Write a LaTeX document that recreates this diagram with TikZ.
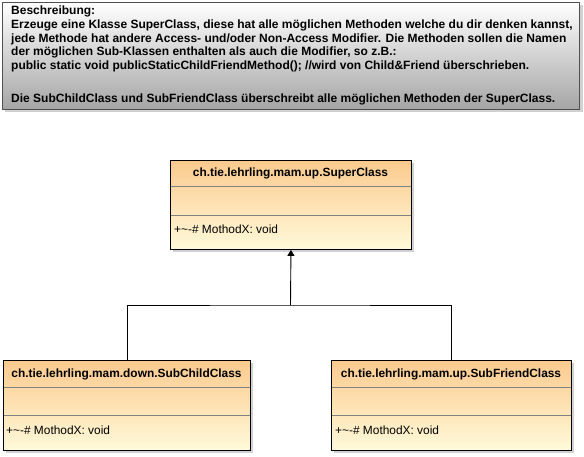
\documentclass[tikz,border=0pt]{standalone}
\usepackage{fontspec}
\setmainfont{Liberation Sans}
\usetikzlibrary{arrows.meta,shadings}
\definecolor{clstop}{RGB}{251,202,142}
\definecolor{clsbot}{RGB}{255,250,218}
\definecolor{sepgray}{RGB}{130,130,130}
\definecolor{descbot}{RGB}{165,165,165}
\definecolor{descborder}{RGB}{80,80,80}
\tikzset{
  px/.style={x=1pt,y=-1pt},
  classbox/.style={draw=black,line width=0.9pt,top color=clstop,bottom color=clsbot,anchor=north west,inner sep=0pt},
  descbox/.style={draw=descborder,line width=0.9pt,top color=white,bottom color=descbot,anchor=north west,inner sep=0pt},
  shadowbox/.style={fill=black,opacity=0.18,anchor=north west,inner sep=0pt},
  desctext/.style={anchor=base west,inner sep=0pt,font=\fontsize{12}{14}\selectfont\bfseries},
  headtext/.style={anchor=base,inner sep=0pt,font=\fontsize{11.9}{14}\selectfont\bfseries},
  attrtext/.style={anchor=base west,inner sep=0pt,font=\fontsize{11.9}{14}\selectfont},
  sepline/.style={draw=sepgray,line width=0.6pt},
  conn/.style={draw=black,line width=0.9pt},
  inherit/.style={conn,-{Triangle[length=6pt,width=7pt]}}
}
\begin{document}
\begin{tikzpicture}[px]
\useasboundingbox (0,0) rectangle (584,457);
% description
\node[shadowbox,minimum width=578pt,minimum height=107pt] (descsh) at (5,5) {};
\node[descbox,minimum width=577pt,minimum height=107pt] (desc) at (2,2) {};
\node[desctext] (d1) at (11,14.5) {Beschreibung:};
\node[desctext] (d2) at (11,29) {Erzeuge eine Klasse SuperClass, diese hat alle möglichen Methoden welche du dir denken kannst,};
\node[desctext] (d3) at (11,42.5) {jede Methode hat andere Access- und/oder Non-Access Modifier. Die Methoden sollen die Namen};
\node[desctext] (d4) at (11,55.5) {der möglichen Sub-Klassen enthalten als auch die Modifier, so z.B.:};
\node[desctext] (d5) at (11,69.5) {public static void publicStaticChildFriendMethod(); //wird von Child\&Friend überschrieben.};
\node[desctext] (d6) at (11,103) {Die SubChildClass und SubFriendClass überschreibt alle möglichen Methoden der SuperClass.};
% SuperClass
\node[shadowbox,minimum width=241pt,minimum height=89pt] (supersh) at (173,163) {};
\node[classbox,minimum width=241pt,minimum height=89pt] (super) at (170,160) {};
\draw[sepline] (170.5,186) -- (410.5,186);
\draw[sepline] (170.5,215) -- (410.5,215);
\node[headtext] (superh) at (290.5,177) {ch.tie.lehrling.mam.up.SuperClass};
\node[attrtext] (supera) at (174,234) {+\textasciitilde-\# MothodX: void};
% SubChildClass
\node[shadowbox,minimum width=247pt,minimum height=90pt] (childsh) at (6,363) {};
\node[classbox,minimum width=247pt,minimum height=90pt] (child) at (3,360) {};
\draw[sepline] (3.5,387) -- (249.5,387);
\draw[sepline] (3.5,415) -- (249.5,415);
\node[headtext] (childh) at (126.5,377) {ch.tie.lehrling.mam.down.SubChildClass};
\node[attrtext] (childa) at (6,434) {+\textasciitilde-\# MothodX: void};
% SubFriendClass
\node[shadowbox,minimum width=240pt,minimum height=90pt] (friendsh) at (334,363) {};
\node[classbox,minimum width=240pt,minimum height=90pt] (friend) at (331,360) {};
\draw[sepline] (331.5,387) -- (570.5,387);
\draw[sepline] (331.5,415) -- (570.5,415);
\node[headtext] (friendh) at (451,377) {ch.tie.lehrling.mam.up.SubFriendClass};
\node[attrtext] (frienda) at (335,434) {+\textasciitilde-\# MothodX: void};
% connectors
\coordinate (j) at (290.5,305);
\draw[conn] (child.north) |- (j) -| (friend.north);
\draw[inherit] (j) -- (super.south);
\end{tikzpicture}
\end{document}
